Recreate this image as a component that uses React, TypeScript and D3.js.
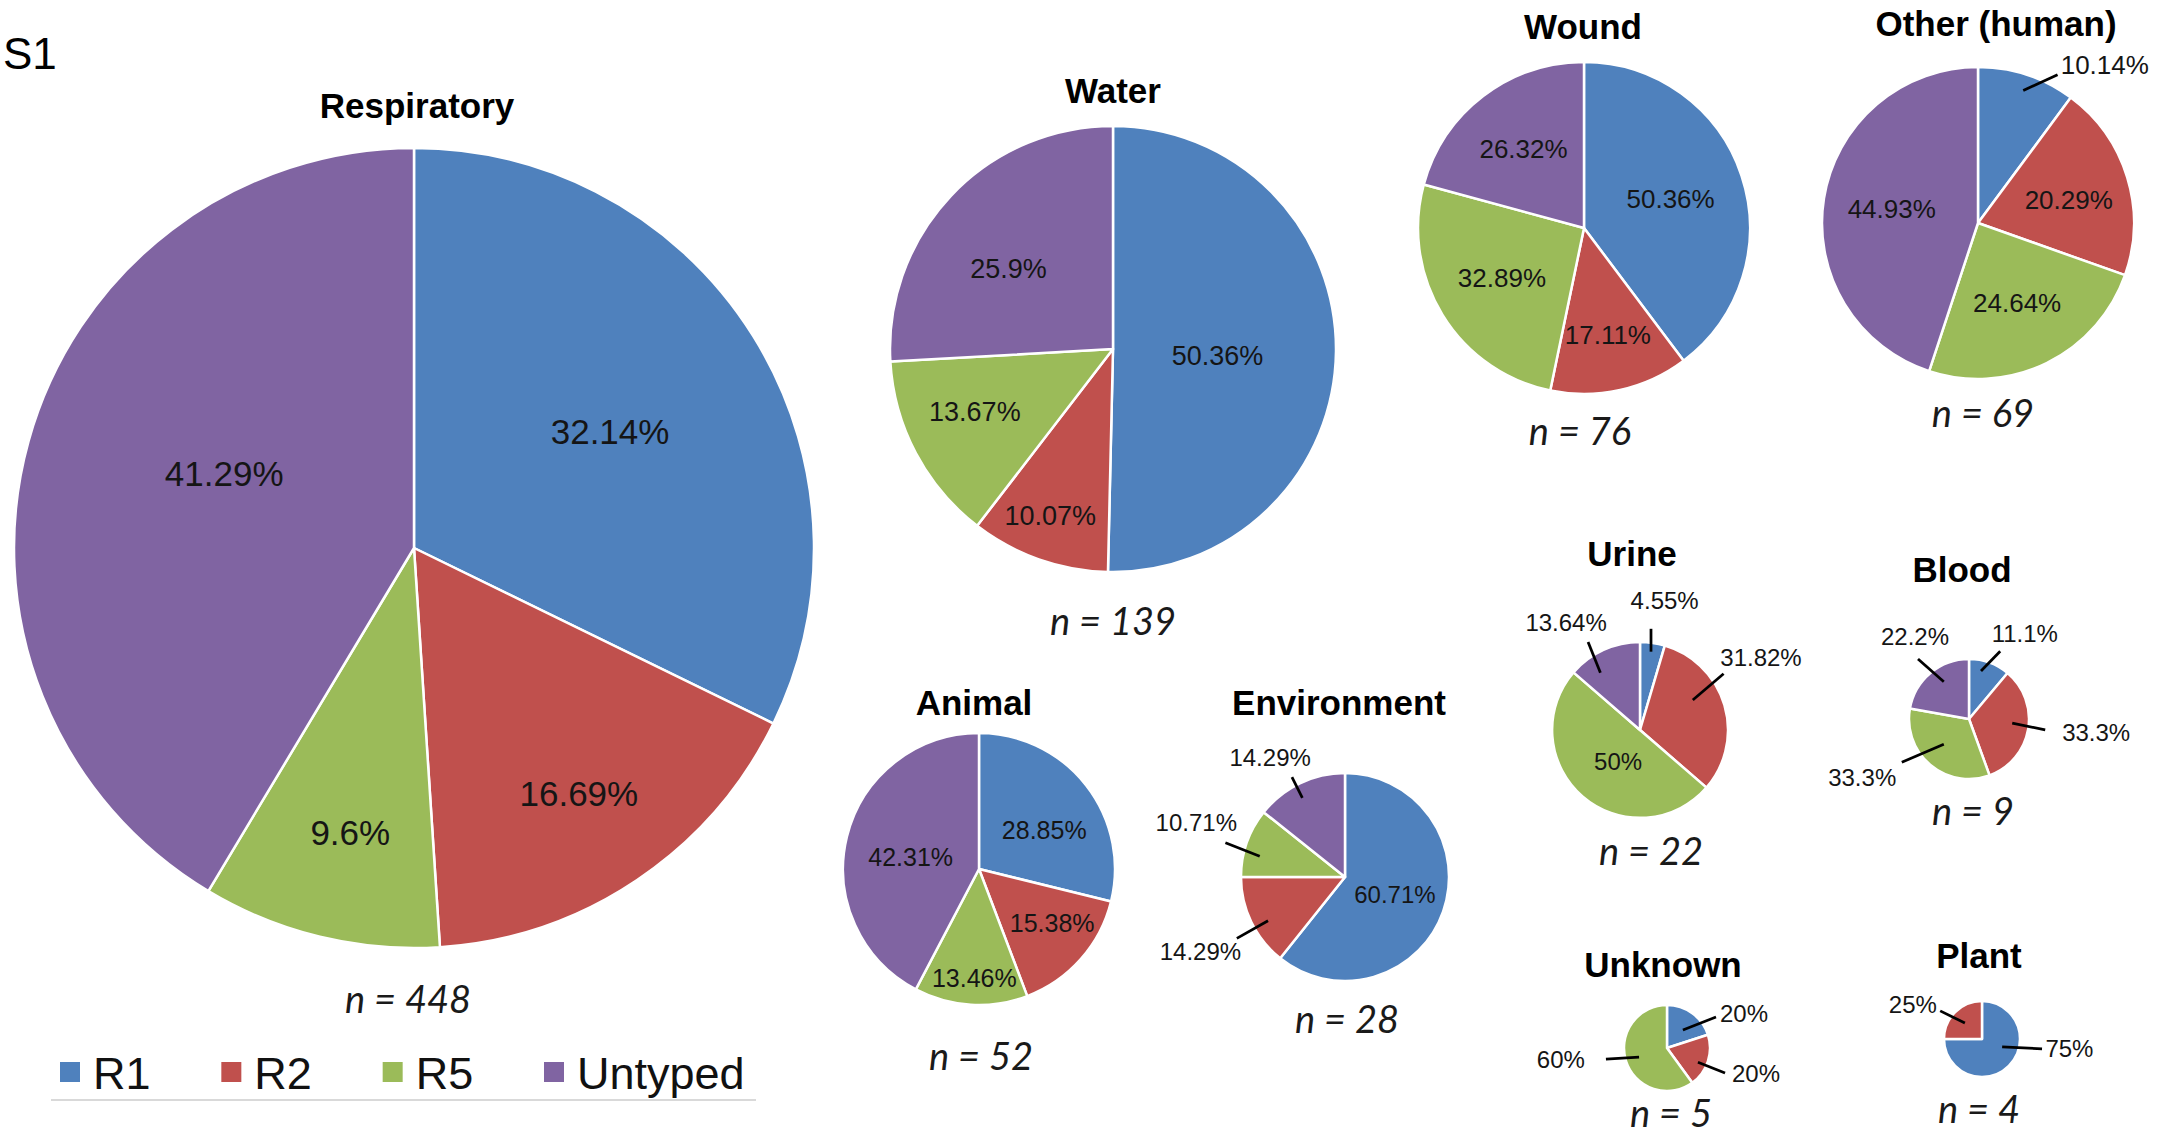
import React, { useEffect } from "react";
import * as d3 from "d3";

// Serotype groups and their fill colours
const SERIES = ["R1", "R2", "R5", "Untyped"];
const SERIES_COLORS = ["#4F81BD", "#C0504D", "#9BBB59", "#8064A2"];

// Share of isolates (%) per serotype group, in SERIES order
const respiratory = [32.14, 16.69, 9.6, 41.29];
const water = [50.36, 10.07, 13.67, 25.9];
const wound = [50.36, 17.11, 32.89, 26.32];
const otherHuman = [10.14, 20.29, 24.64, 44.93];
const animal = [28.85, 15.38, 13.46, 42.31];
const environment = [60.71, 14.29, 10.71, 14.29];
const urine = [4.55, 31.82, 50, 13.64];
const blood = [11.1, 33.3, 33.3, 22.2];
const unknown = [20, 20, 60, 0];
const plant = [75, 25, 0, 0];

const SOURCES = [
  "Respiratory",
  "Water",
  "Wound",
  "Other (human)",
  "Animal",
  "Environment",
  "Urine",
  "Blood",
  "Unknown",
  "Plant",
];
const COUNTS = [448, 139, 76, 69, 52, 28, 22, 9, 5, 4];
const SHARES = [respiratory, water, wound, otherHuman, animal, environment, urine, blood, unknown, plant];

// Label placement: inside labels sit on the slice's mid angle (k = radius factor, da = angle nudge in degrees);
// outside labels use a leader from/to and a text anchor point, all in units of the pie radius from its centre.
type LabelSpec =
  | { k: number; da?: number }
  | { from: [number, number]; to: [number, number]; at: [number, number]; anchor?: string }
  | null;

interface PieLayout {
  cx: number;
  cy: number;
  r: number;
  titleX: number;
  titleY: number;
  nX: number;
  nY: number;
  fs: number;
  labels: LabelSpec[];
}

const LAYOUT: PieLayout[] = [
  {
    cx: 414, cy: 548, r: 400, titleX: 417, titleY: 105, nX: 408, nY: 998, fs: 35,
    labels: [{ k: 0.57, da: 1.3 }, { k: 0.74 }, { k: 0.73, da: -1 }, { k: 0.51, da: 6 }],
  },
  {
    cx: 1113, cy: 349, r: 223, titleX: 1113, titleY: 90, nX: 1113, nY: 620, fs: 27,
    labels: [{ k: 0.47, da: 3 }, { k: 0.8, da: 1.2 }, { k: 0.68, da: 3.5 }, { k: 0.59, da: -6 }],
  },
  {
    cx: 1584, cy: 228, r: 166, titleX: 1583, titleY: 26, nX: 1580, nY: 430, fs: 26,
    labels: [{ k: 0.55 }, { k: 0.66 }, { k: 0.58 }, { k: 0.6 }],
  },
  {
    cx: 1978, cy: 223, r: 156, titleX: 1996, titleY: 23, nX: 1983, nY: 412, fs: 26,
    labels: [
      { from: [0.29, -0.85], to: [0.51, -0.95], at: [0.53, -1.01], anchor: "start" },
      { k: 0.6, da: 2.8 },
      { k: 0.57 },
      { k: 0.56 },
    ],
  },
  {
    cx: 979, cy: 869, r: 136, titleX: 974, titleY: 702, nX: 981, nY: 1055, fs: 25,
    labels: [{ k: 0.56, da: 7 }, { k: 0.67, da: -5 }, { k: 0.8, da: -1 }, { k: 0.51, da: -4 }],
  },
  {
    cx: 1345, cy: 877, r: 104, titleX: 1339, titleY: 702, nX: 1347, nY: 1018, fs: 24,
    labels: [
      { k: 0.51, da: 0.5 },
      { from: [-0.74, 0.42], to: [-1.04, 0.59], at: [-1.39, 0.72] },
      { from: [-0.82, -0.2], to: [-1.15, -0.33], at: [-1.43, -0.52] },
      { from: [-0.41, -0.76], to: [-0.51, -0.96], at: [-0.72, -1.15] },
    ],
  },
  {
    cx: 1640, cy: 730, r: 88, titleX: 1632, titleY: 553, nX: 1651, nY: 850, fs: 24,
    labels: [
      { from: [0.125, -0.89], to: [0.125, -1.15], at: [0.28, -1.47] },
      { from: [0.6, -0.34], to: [0.95, -0.64], at: [1.375, -0.82] },
      { k: 0.44, da: -6.4 },
      { from: [-0.45, -0.65], to: [-0.59, -1.0], at: [-0.84, -1.22] },
    ],
  },
  {
    cx: 1969, cy: 719, r: 60, titleX: 1962, titleY: 569, nX: 1973, nY: 810, fs: 24,
    labels: [
      { from: [0.2, -0.8], to: [0.52, -1.13], at: [0.93, -1.42] },
      { from: [0.72, 0.07], to: [1.27, 0.18], at: [2.12, 0.22] },
      { from: [-0.42, 0.42], to: [-1.12, 0.72], at: [-1.78, 0.97] },
      { from: [-0.42, -0.62], to: [-0.85, -1.0], at: [-0.9, -1.38] },
    ],
  },
  {
    cx: 1667, cy: 1048, r: 43, titleX: 1663, titleY: 964, nX: 1671, nY: 1112, fs: 24,
    labels: [
      { from: [0.37, -0.42], to: [1.14, -0.72], at: [1.79, -0.81] },
      { from: [0.72, 0.33], to: [1.35, 0.58], at: [2.07, 0.6] },
      { from: [-0.65, 0.21], to: [-1.42, 0.26], at: [-2.47, 0.26] },
      null,
    ],
  },
  {
    cx: 1982, cy: 1039, r: 38, titleX: 1979, titleY: 955, nX: 1979, nY: 1108, fs: 24,
    labels: [
      { from: [0.53, 0.21], to: [1.58, 0.26], at: [2.3, 0.26] },
      { from: [-0.45, -0.42], to: [-1.1, -0.74], at: [-1.82, -0.92] },
      null,
      null,
    ],
  },
];

const SANS = "'Liberation Sans', Arial, Helvetica, sans-serif";
const N_FONT = "Lato, 'Open Sans', sans-serif";
const TEXT_COLOR = "#151515";

const pieGen = d3
  .pie<number>()
  .sort(null)
  .value((d) => d);

function polar(angle: number, radius: number): [number, number] {
  return [Math.sin(angle) * radius, -Math.cos(angle) * radius];
}

function SourcePie({ index }: { index: number }) {
  const values = SHARES[index];
  const L = LAYOUT[index];
  const arcs = pieGen(values);
  const arcGen = d3.arc<d3.PieArcDatum<number>>().innerRadius(0).outerRadius(L.r);

  return (
    <g>
      <text
        x={L.titleX}
        y={L.titleY}
        textAnchor="middle"
        dominantBaseline="central"
        fontFamily={SANS}
        fontWeight="bold"
        fontSize={35}
        fill="#000"
      >
        {SOURCES[index]}
      </text>
      <g transform={`translate(${L.cx},${L.cy})`}>
        {arcs.map((a, i) =>
          a.value > 0 ? (
            <path
              key={`s${i}`}
              d={arcGen(a) || ""}
              fill={SERIES_COLORS[i]}
              stroke="#fff"
              strokeWidth={2.5}
              strokeLinejoin="round"
            />
          ) : null
        )}
        {arcs.map((a, i) => {
          const spec = L.labels[i];
          if (!spec || a.value <= 0) return null;
          const text = `${values[i]}%`;
          if ("k" in spec) {
            const mid = (a.startAngle + a.endAngle) / 2 + ((spec.da || 0) * Math.PI) / 180;
            const [x, y] = polar(mid, spec.k * L.r);
            return (
              <text
                key={`l${i}`}
                x={x}
                y={y}
                textAnchor="middle"
                dominantBaseline="central"
                fontFamily={SANS}
                fontSize={L.fs}
                fill={TEXT_COLOR}
              >
                {text}
              </text>
            );
          }
          return (
            <g key={`l${i}`}>
              <line
                x1={spec.from[0] * L.r}
                y1={spec.from[1] * L.r}
                x2={spec.to[0] * L.r}
                y2={spec.to[1] * L.r}
                stroke="#000"
                strokeWidth={2.75}
              />
              <text
                x={spec.at[0] * L.r}
                y={spec.at[1] * L.r}
                textAnchor={spec.anchor || "middle"}
                dominantBaseline="central"
                fontFamily={SANS}
                fontSize={L.fs}
                fill={TEXT_COLOR}
              >
                {text}
              </text>
            </g>
          );
        })}
      </g>
      <text
        x={L.nX}
        y={L.nY}
        textAnchor="middle"
        dominantBaseline="central"
        fontFamily={N_FONT}
        fontStyle="italic"
        fontSize={38}
        fill="#1a1a1a"
      >
        {`n = ${COUNTS[index]}`}
      </text>
    </g>
  );
}

function Legend() {
  const x = d3.scaleLinear().domain([0, SERIES.length - 1]).range([60, 544]);
  return (
    <g>
      {SERIES.map((s, i) => (
        <g key={s}>
          <rect x={x(i)} y={1062} width={20} height={20} fill={SERIES_COLORS[i]} />
          <text
            x={x(i) + 33}
            y={1073}
            dominantBaseline="central"
            fontFamily={SANS}
            fontSize={45}
            fill="#111"
          >
            {s}
          </text>
        </g>
      ))}
      <line x1={51} x2={756} y1={1100} y2={1100} stroke="#d9d9d9" strokeWidth={2} />
    </g>
  );
}

export default function App() {
  useEffect(() => {
    document.body.style.margin = "0";
    document.body.style.overflow = "hidden";
  }, []);
  return (
    <svg
      width={2175}
      height={1134}
      viewBox="0 0 2175 1134"
      style={{ position: "absolute", left: 0, top: 0, background: "#fff" }}
    >
      <rect x={0} y={0} width={2175} height={1134} fill="#fff" />
      <text x={3} y={53} dominantBaseline="central" fontFamily={SANS} fontSize={44} fill="#000">
        S1
      </text>
      {SOURCES.map((_, i) => (
        <SourcePie key={SOURCES[i]} index={i} />
      ))}
      <Legend />
    </svg>
  );
}
